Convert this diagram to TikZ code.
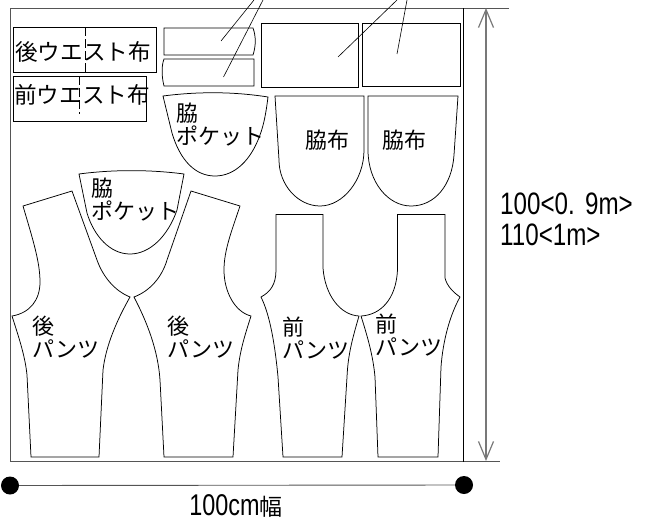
\documentclass[tikz,border=0pt]{standalone}
\usepackage{fontspec}
\usepackage{xcolor}
\usepackage{tikz}
\usetikzlibrary{arrows.meta, positioning}
\setmainfont{Noto Sans CJK JP}
\newfontfamily\numfont[FakeStretch=0.78]{Liberation Sans}
\definecolor{framecolor}{RGB}{85,85,85}
\definecolor{dimcolor}{RGB}{120,120,120}

\begin{document}
\begin{tikzpicture}[
    x=1pt, y=-1pt,
    piece/.style={draw=black, line width=0.75pt, line join=miter},
    frameline/.style={draw=framecolor, line width=0.9pt},
    leader/.style={draw=black, line width=0.6pt},
    foldline/.style={draw=black, line width=0.7pt, dash pattern=on 9pt off 3pt on 9pt off 3pt},
    partlabel/.style={inner sep=0pt, align=left, font=\fontsize{22}{23}\selectfont},
    waistlabel/.style={inner sep=0pt, anchor=center, font=\fontsize{22.6}{23}\selectfont},
    sizelabel/.style={inner sep=0pt, anchor=west, font=\fontsize{31}{32}\numfont},
    dot/.style={circle, fill=black, minimum size=18pt, inner sep=0pt}
]
    \useasboundingbox (0,0) rectangle (650,522);

    % Cloth frame
    \draw[frameline] (509,8) -- (10,8) -- (10,461.5) -- (500,461.5);
    \draw[draw=black, line width=0.7pt] (463,8) -- (463,461.5);

    % Waist bands
    \draw[piece] (13,27) rectangle (156,72);
    \draw[piece] (13,76) rectangle (146,121);
    \draw[foldline] (85,27) -- (85,72);
    \draw[foldline] (79,76) -- (79,114);
    \node[waistlabel] (backwaist) at (83,52) {後ウエスト布};
    \node[waistlabel] (frontwaist) at (82,95) {前ウエスト布};

    % Top strips and large panels
    \draw[piece] (164,28) -- (253,28) .. controls (256,36) and (256,46) .. (253,55) -- (164,55) -- cycle;
    \draw[piece] (254,59) -- (164,59) .. controls (161,67) and (162,78) .. (164,86) -- (254,86) -- cycle;
    \draw[piece] (261,23.5) rectangle (358,87);
    \draw[piece] (362,23.5) rectangle (460,86.5);

    % Leaders running out of the top
    \coordinate (leadastart) at (221,41);
    \coordinate (leadaend) at (254,0);
    \coordinate (leadbstart) at (223.5,77);
    \coordinate (leadbend) at (263,0);
    \coordinate (leadcstart) at (338,57);
    \coordinate (leadcend) at (397,0);
    \coordinate (leaddstart) at (397,54);
    \coordinate (leaddend) at (407,0);
    \draw[leader] (leadastart) -- (leadaend);
    \draw[leader] (leadbstart) -- (leadbend);
    \draw[leader] (leadcstart) -- (leadcend);
    \draw[leader] (leaddstart) -- (leaddend);

    % Side pockets
    \draw[piece] (163,96) .. controls (198,91.5) and (233,91.5) .. (268,97)
        .. controls (266,113) and (264,124) .. (260,135)
        .. controls (251,160) and (235,176) .. (215,176)
        .. controls (195,176) and (180,160) .. (172,133) -- cycle;
    \draw[piece] (79,174) .. controls (113,169.5) and (150,169.5) .. (184,174) -- (177,210)
        .. controls (168,236) and (150,254) .. (130,254)
        .. controls (110,254) and (94,236) .. (87,213) -- cycle;
    \node[partlabel, anchor=west] (pocketa) at (176,125) {脇\\ポケット};
    \node[partlabel, anchor=west] (pocketb) at (91,200) {脇\\ポケット};

    % Side cloths
    \draw[piece] (275,96) -- (364,96) -- (364,150)
        .. controls (364,180) and (343,206) .. (320,206)
        .. controls (298,206) and (279,185) .. (279,160) -- cycle;
    \draw[piece] (368,96) -- (458,96) -- (454,155)
        .. controls (452,185) and (435,206) .. (411,206)
        .. controls (388,206) and (368,182) .. (368,150) -- cycle;
    \node[partlabel, anchor=center] (sideclotha) at (327,140) {脇布};
    \node[partlabel, anchor=center] (sideclothb) at (404,140) {脇布};

    % Back pants
    \draw[piece] (23,206) -- (72,191) -- (97,260)
        .. controls (103,277) and (115,291) .. (130,297)
        .. controls (117,320) and (106,345) .. (103,370) -- (99,457) -- (31,457) -- (27,375)
        .. controls (25,355) and (18,335) .. (12,316)
        .. controls (30,313) and (40,300) .. (40,282)
        .. controls (40,262) and (33,240) .. cycle;
    \draw[piece] (191,191) -- (240,206)
        .. controls (232,230) and (224,250) .. (224,270)
        .. controls (224,292) and (235,312) .. (251,316)
        .. controls (245,335) and (240,350) .. (238,370) -- (233,457) -- (164,457) -- (160,380)
        .. controls (158,350) and (147,322) .. (134,297)
        .. controls (150,291) and (162,277) .. (167,260) -- cycle;
    \node[partlabel, anchor=west] (backa) at (32,337) {後\\パンツ};
    \node[partlabel, anchor=west] (backb) at (167,337) {後\\パンツ};

    % Front pants
    \draw[piece] (276,214.5) -- (323,214.5) -- (323,268)
        .. controls (325,295) and (340,315) .. (359,316)
        .. controls (352,340) and (348,355) .. (347,377) -- (342,457) -- (283,457) -- (278,377)
        .. controls (275,345) and (270,315) .. (261,297)
        .. controls (270,292) and (276,285) .. (276,270) -- cycle;
    \draw[piece] (397.5,214.5) -- (445,214.5) -- (445,278)
        .. controls (447,286) and (453,292) .. (460,297)
        .. controls (450,315) and (443,340) .. (441,367) -- (438,457) -- (378,457) -- (375,377)
        .. controls (373,355) and (367,335) .. (361,316)
        .. controls (380,315) and (396,300) .. (397.5,270) -- cycle;
    \node[partlabel, anchor=west] (fronta) at (282,338) {前\\パンツ};
    \node[partlabel, anchor=west] (frontb) at (375,335) {前\\パンツ};

    % Dimensions
    \coordinate (dimtop) at (486,8);
    \coordinate (dimbottom) at (486,461);
    \draw[draw=dimcolor, line width=1.2pt, {Straight Barb[length=18pt,width=15pt]}-{Straight Barb[length=18pt,width=15pt]}] (dimtop) -- (dimbottom);
    \node[sizelabel] (lengtha) at (500,203.5) {100<0.\,\,9m>};
    \node[sizelabel] (lengthb) at (500,235) {110<1m>};

    \node[dot] (dotleft) at (10,485.5) {};
    \node[dot] (dotright) at (464,485) {};
    \draw[draw=framecolor, line width=0.9pt] (dotleft) -- (dotright);
    \node[inner sep=0pt, anchor=base, font=\fontsize{30}{31}\numfont] (widthlabel) at (236,515) {100cm{\fontsize{23}{24}\fontspec{Noto Sans CJK JP}幅}};
\end{tikzpicture}
\end{document}
